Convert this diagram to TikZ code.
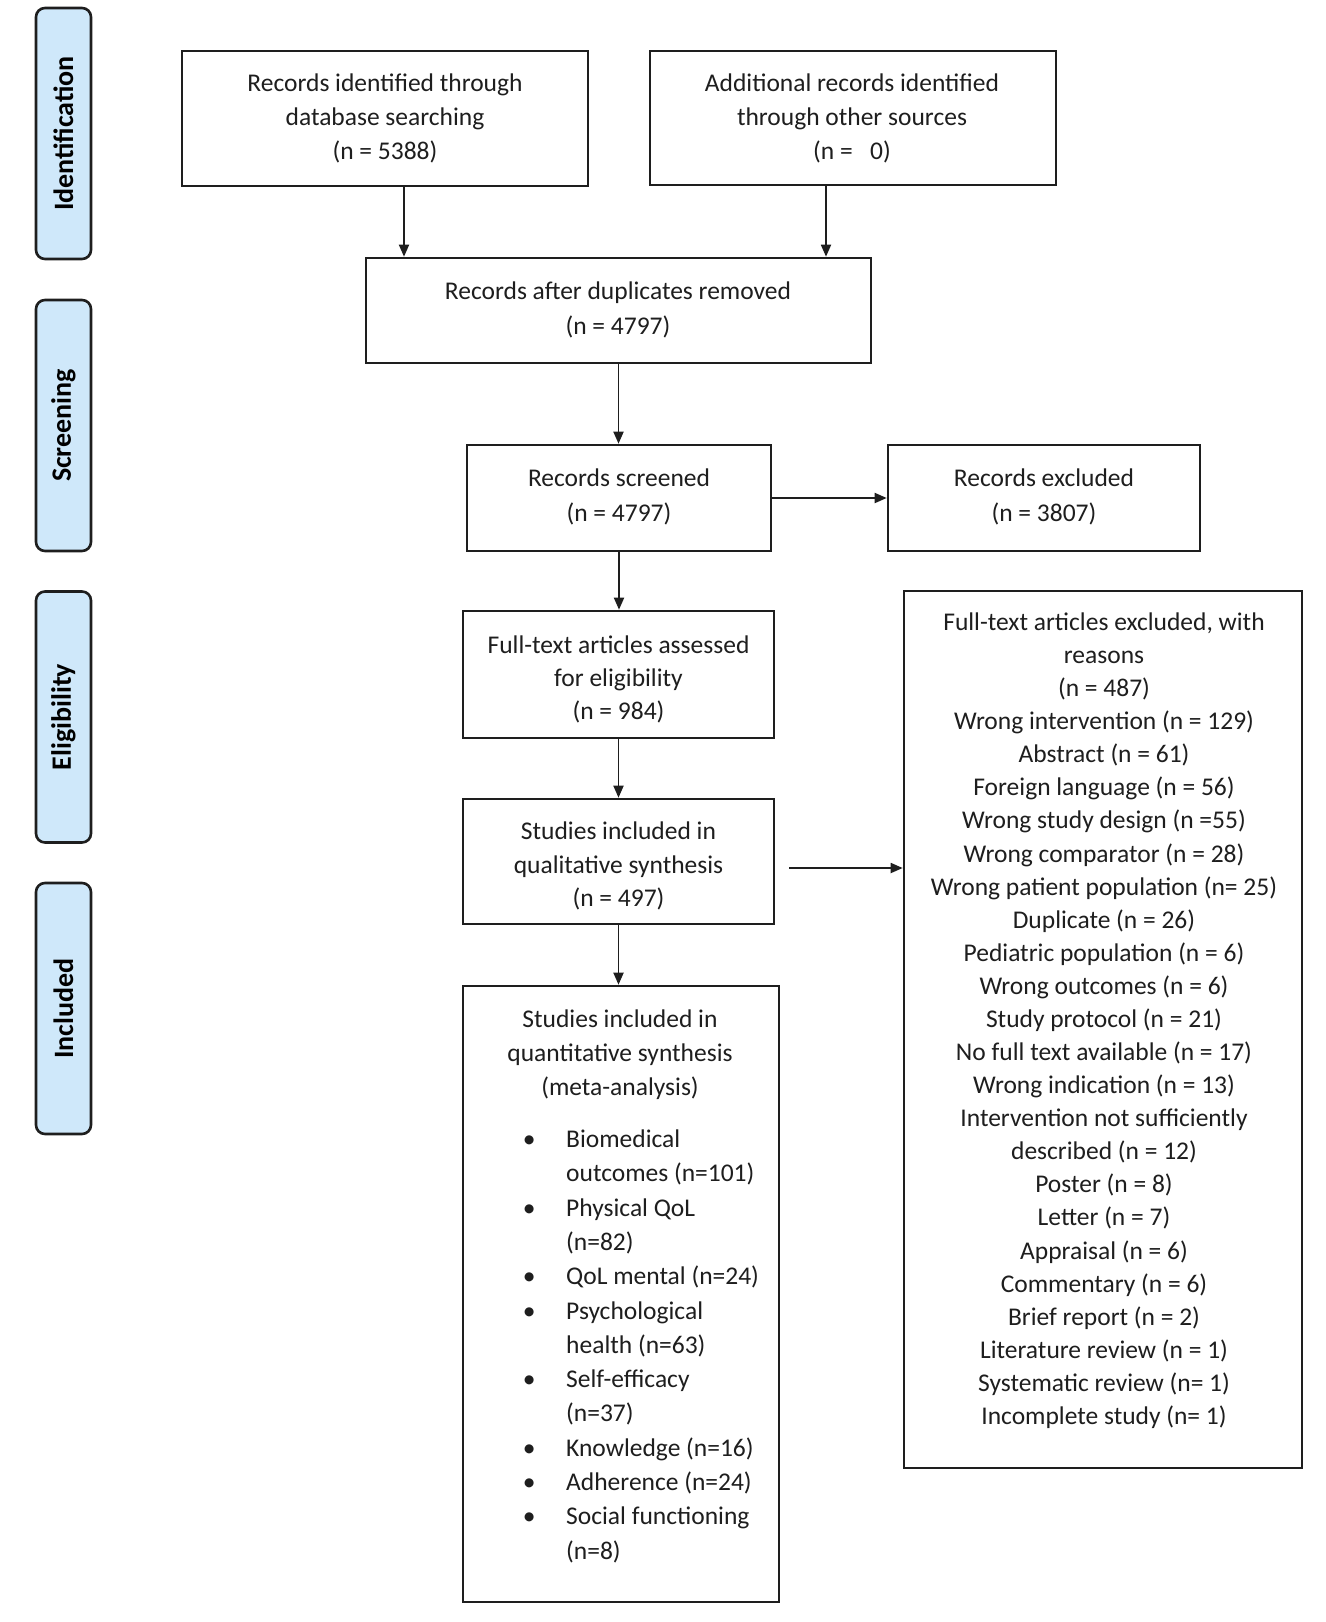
\documentclass[tikz,border=0pt]{standalone}
\usepackage{fontspec}
\setmainfont{Carlito}
\usetikzlibrary{arrows.meta}
\definecolor{tabblue}{HTML}{CFE8FA}
\definecolor{ink}{HTML}{1E1E1E}
\newcommand\cstack[1]{\begin{tabular}[t]{@{}c@{}}#1\end{tabular}}
\newcommand\bul{\makebox[44pt][l]{\makebox[14pt]{\textbullet}}}
\begin{document}
\begin{tikzpicture}[x=1pt,y=-1pt,
  box/.style={draw=ink,line width=2.6pt,fill=white,inner sep=0pt},
  tab/.style={draw=ink,line width=2.6pt,fill=tabblue,rounded corners=9pt,inner sep=0pt,
              minimum width=55pt,minimum height=251pt},
  tablabel/.style={rotate=90,font=\fontsize{28}{32}\selectfont\bfseries,text=black},
  txt/.style={anchor=base,inner sep=0pt,font=\fontsize{25.5}{34}\selectfont,text=ink},
  arr/.style={draw=ink,line width=1.8pt,-{Triangle[length=12pt,width=10pt]}}]
\useasboundingbox (0,0) rectangle (1325,1622);
% phase tabs
\node[tab] (tid) at (63.5,133.5) {};
\node[tablabel] (lid) at (tid.center) {Identification};
\node[tab] (tsc) at (63.5,425.5) {};
\node[tablabel] (lsc) at (tsc.center) {Screening};
\node[tab] (tel) at (63.5,717) {};
\node[tablabel] (lel) at (tel.center) {Eligibility};
\node[tab] (tin) at (63.5,1008.5) {};
\node[tablabel] (lin) at (tin.center) {Included};
% boxes
\node[box,minimum width=406pt,minimum height=135pt] (b1) at (385,118.5) {};
\node[box,minimum width=406pt,minimum height=134pt] (b2) at (853,118) {};
\node[box,minimum width=505pt,minimum height=105pt] (dup) at (618.5,310.5) {};
\node[box,minimum width=304pt,minimum height=106pt] (scr) at (619,498) {};
\node[box,minimum width=312pt,minimum height=106pt] (exc) at (1044,498) {};
\node[box,minimum width=311pt,minimum height=127pt] (ft) at (618.5,674.5) {};
\node[box,minimum width=311pt,minimum height=125pt] (qual) at (618.5,861.5) {};
\node[box,minimum width=316pt,minimum height=616pt] (quant) at (621,1294) {};
\node[box,minimum width=398pt,minimum height=877pt] (rsn) at (1103,1029.5) {};
% texts
\node[txt] (b1t) at (385,91.5) {\cstack{Records identified through\\database searching\\(n = 5388)}};
\node[txt] (b2t) at (852,91.5) {\cstack{Additional records identified\\through other sources\\(n =\ \ \ 0)}};
\node[txt,font=\fontsize{25.5}{35}\selectfont] (dupt) at (618,299.5) {\cstack{Records after duplicates removed\\(n = 4797)}};
\node[txt,font=\fontsize{25.5}{35}\selectfont] (scrt) at (619,486.5) {\cstack{Records screened\\(n = 4797)}};
\node[txt,font=\fontsize{25.5}{35}\selectfont] (exct) at (1044,486.5) {\cstack{Records excluded\\(n = 3807)}};
\node[txt,font=\fontsize{25.5}{33}\selectfont] (ftt) at (618.5,653.5) {\cstack{Full-text articles assessed\\for eligibility\\(n = 984)}};
\node[txt,font=\fontsize{25.5}{33.5}\selectfont] (qualt) at (618.5,839.5) {\cstack{Studies included in\\qualitative synthesis\\(n = 497)}};
\node[txt] (quantt) at (620,1027.5) {\cstack{Studies included in\\quantitative synthesis\\(meta-analysis)}};
\node[txt,anchor=base west,font=\fontsize{25.5}{34.3}\selectfont] (qlist) at (522,1147.5) {\begin{tabular}[t]{@{}l@{}l@{}}
\bul & Biomedical\\
 & outcomes (n=101)\\
\bul & Physical QoL\\
 & (n=82)\\
\bul & QoL mental (n=24)\\
\bul & Psychological\\
 & health (n=63)\\
\bul & Self-efficacy\\
 & (n=37)\\
\bul & Knowledge (n=16)\\
\bul & Adherence (n=24)\\
\bul & Social functioning\\
 & (n=8)
\end{tabular}};
\node[txt,font=\fontsize{25.5}{33.08}\selectfont] (rsnt) at (1104,630.5) {\cstack{Full-text articles excluded, with\\reasons\\(n = 487)\\Wrong intervention (n = 129)\\Abstract (n = 61)\\Foreign language (n = 56)\\Wrong study design (n =55)\\Wrong comparator (n = 28)\\Wrong patient population (n= 25)\\Duplicate (n = 26)\\Pediatric population (n = 6)\\Wrong outcomes (n = 6)\\Study protocol (n = 21)\\No full text available (n = 17)\\Wrong indication (n = 13)\\Intervention not sufficiently\\described (n = 12)\\Poster (n = 8)\\Letter (n = 7)\\Appraisal (n = 6)\\Commentary (n = 6)\\Brief report (n = 2)\\Literature review (n = 1)\\Systematic review (n= 1)\\Incomplete study (n= 1)}};
% connectors
\draw[arr] ([xshift=19pt]b1.south) -- ([xshift=19pt]b1.south |- dup.north);
\draw[arr] ([xshift=-27pt]b2.south) -- ([xshift=-27pt]b2.south |- dup.north);
\draw[arr] (dup.south) -- (dup.south |- scr.north);
\draw[arr] (scr.east) -- (exc.west);
\draw[arr] (scr.south) -- (scr.south |- ft.north);
\draw[arr] (ft.south) -- (ft.south |- qual.north);
\draw[arr] (qual.south) -- (qual.south |- quant.north);
\coordinate (qs) at ([xshift=14pt,yshift=-6.5pt]qual.east);
\draw[arr] (qs) -- (qs -| rsn.west);
\end{tikzpicture}
\end{document}
